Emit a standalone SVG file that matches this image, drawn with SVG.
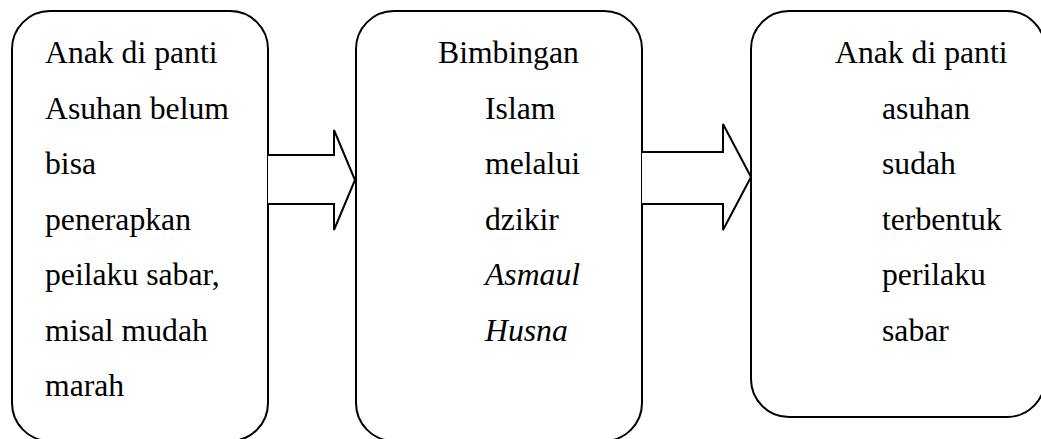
<svg xmlns="http://www.w3.org/2000/svg" width="1041" height="439" viewBox="0 0 1041 439">
<style>
.box{fill:#fff;stroke:#000;stroke-width:2}
.arr{fill:#fff;stroke:#000;stroke-width:2;stroke-linejoin:miter}
.t{font-family:'Liberation Serif','Times New Roman',serif;font-size:31.7px;fill:#000}
.it{font-style:italic}
</style>
<rect width="1041" height="439" fill="#fff"/>
<g id="node-left" class="t">
<rect class="box" x="12" y="11" width="256" height="430" rx="38" ry="38"/>
<text x="45" y="63">Anak di panti</text>
<text x="45" y="119">Asuhan belum</text>
<text x="45" y="174">bisa</text>
<text x="45" y="230">penerapkan</text>
<text x="45" y="285">peilaku sabar,</text>
<text x="45" y="341">misal mudah</text>
<text x="45" y="396">marah</text>
</g>
<g id="node-middle" class="t">
<rect class="box" x="356" y="11" width="286" height="430" rx="38" ry="38"/>
<text x="438" y="63">Bimbingan</text>
<text x="485" y="119">Islam</text>
<text x="485" y="174">melalui</text>
<text x="485" y="230">dzikir</text>
<text class="it" x="485" y="285">Asmaul</text>
<text class="it" x="485" y="341">Husna</text>
</g>
<g id="node-right" class="t">
<rect class="box" x="751" y="11" width="294" height="406" rx="38" ry="38"/>
<text x="835" y="63">Anak di panti</text>
<text x="882" y="119">asuhan</text>
<text x="882" y="174">sudah</text>
<text x="882" y="230">terbentuk</text>
<text x="882" y="285">perilaku</text>
<text x="882" y="341">sabar</text>
</g>
<g id="connectors">
<polyline class="arr" points="268,155 334,155 334,130 355,180 334,230 334,204 268,204"/>
<polyline class="arr" points="642,152 723,152 723,124 751,177 723,230 723,204 642,204"/>
</g>
</svg>
